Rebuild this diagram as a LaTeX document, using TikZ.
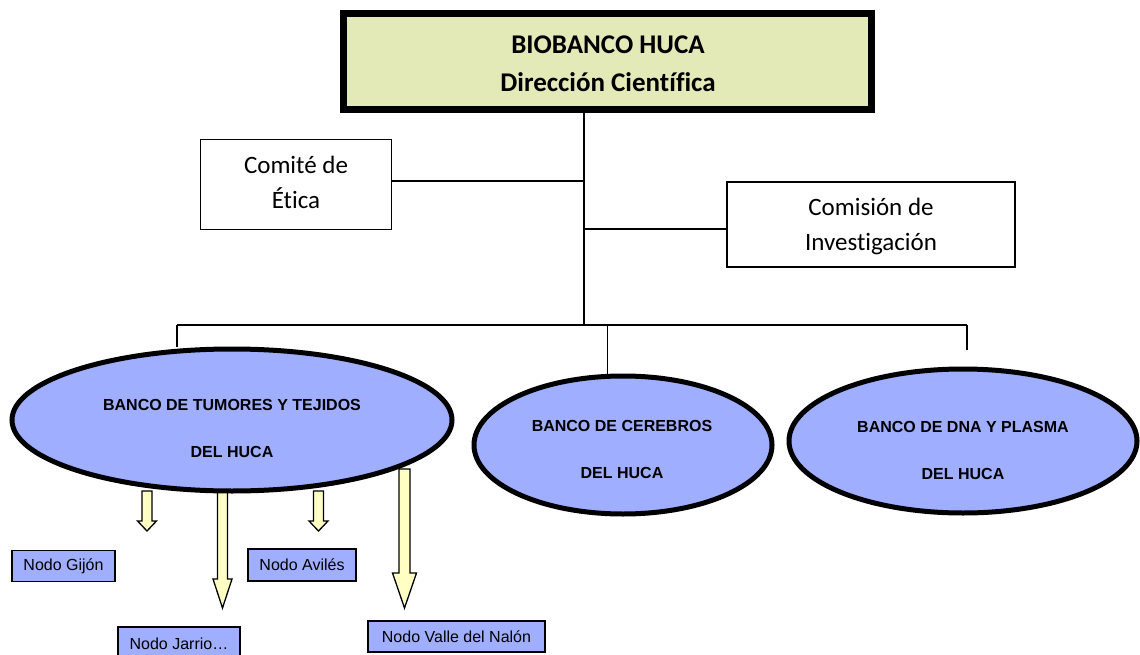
\documentclass[tikz,border=0pt]{standalone}
\usepackage{fontspec}
\setmainfont{Liberation Sans}
\newfontfamily\calfont[Ligatures=NoCommon]{Carlito}
\newfontfamily\arialfont{Liberation Sans}
\usetikzlibrary{shapes.geometric}
\definecolor{topfill}{RGB}{227,234,183}
\definecolor{bankfill}{RGB}{160,174,255}
\definecolor{arrfill}{RGB}{255,255,196}
\tikzset{
  topbox/.style={draw=black, line width=7pt, fill=topfill, inner sep=0pt,
    minimum width=528pt, minimum height=96pt},
  toptext/.style={align=center, inner sep=0pt,
    font={\calfont\bfseries\fontsize{27}{38}\selectfont}},
  sidebox/.style={draw=black, line width=1.3pt, fill=white, inner sep=0pt},
  sidetext/.style={align=center, inner sep=0pt,
    font={\calfont\fontsize{25}{35}\selectfont}},
  bank/.style={ellipse, draw=black, line width=5pt, fill=bankfill, inner sep=0pt},
  banktext/.style={align=center, inner sep=0pt,
    font={\arialfont\bfseries\fontsize{16}{47}\selectfont}},
  nodobox/.style={draw=black, line width=1.5pt, fill=bankfill, inner sep=0pt,
    font={\arialfont\fontsize{16}{19}\selectfont}},
  conn/.style={draw=black, line width=1.3pt},
  arrowbox/.style={draw=black, line width=1.3pt, fill=arrfill, line join=miter}
}
\newcommand{\bkarrow}[6]{%
  \draw[arrowbox] (#1-#2,#4) -- (#1+#2,#4) -- (#1+#2,#5) -- (#1+#3,#5) -- (#1,#6)
    -- (#1-#3,#5) -- (#1-#2,#5) -- cycle;}
\begin{document}
\begin{tikzpicture}[x=1pt,y=-1pt]
\useasboundingbox (0,0) rectangle (1140,655);
% top box
\node[topbox] (top) at (607.5,61.5) {};
\node[toptext] (toptxt) at (608,64) {BIOBANCO HUCA\\Dirección Científica};
% committees
\node[sidebox, minimum width=191pt, minimum height=90pt] (comite) at (296,184.5) {};
\node[sidetext] (comitetxt) at (296,182.5) {Comité de\\Ética};
\node[sidebox, minimum width=288pt, minimum height=85pt] (comision) at (871,224.5) {};
\node[sidetext] (comisiontxt) at (871,226.5) {Comisión de\\Investigación};
% connectors
\coordinate (hub) at (584,325);
\coordinate (c1) at (584,181);
\coordinate (c2) at (584,229);
\coordinate (bl) at (177,325);
\coordinate (br) at (967,325);
\coordinate (bm) at (607.5,325);
\draw[conn] (top.south -| hub) -- (hub);
\draw[conn] (comite.east |- c1) -- (c1);
\draw[conn] (c2) -- (comision.west |- c2);
\draw[conn] (bl) -- (br);
% block arrows behind ellipse
\bkarrow{147}{5}{9.5}{491}{521}{531}
\bkarrow{222.5}{5}{9.5}{491}{579}{608}
\bkarrow{318.5}{5}{9.5}{491}{521}{531}
% banks
\node[bank, minimum width=440pt, minimum height=142pt] (tumores) at (232,420) {};
\node[bank, minimum width=298pt, minimum height=138pt] (cerebros) at (623,445) {};
\node[bank, minimum width=348pt, minimum height=144pt] (dna) at (963,441) {};
\draw[conn] (bl) -- (bl |- tumores.north);
\draw[conn] (bm) -- (bm |- cerebros.north);
\draw[conn] (br) -- ++(0,25);
\node[banktext] (tumorestxt) at (232,428.5) {BANCO DE TUMORES Y TEJIDOS\\DEL HUCA};
\node[banktext] (cerebrostxt) at (622,449.5) {BANCO DE CEREBROS\\DEL HUCA};
\node[banktext] (dnatxt) at (963,450.5) {BANCO DE DNA Y PLASMA\\DEL HUCA};
% arrow over ellipse
\bkarrow{404.5}{5.5}{12}{469}{573}{608}
% nodos
\node[nodobox, minimum width=103pt, minimum height=31pt] (gijon) at (63.5,566) {Nodo Gijón};
\node[nodobox, minimum width=108pt, minimum height=32pt] (aviles) at (302,565) {Nodo Avilés};
\node[nodobox, minimum width=122pt, minimum height=34pt] (jarrio) at (179,644) {Nodo Jarrio…};
\node[nodobox, minimum width=177pt, minimum height=31pt] (valle) at (456.5,636.5) {Nodo Valle del Nalón};
\end{tikzpicture}
\end{document}
